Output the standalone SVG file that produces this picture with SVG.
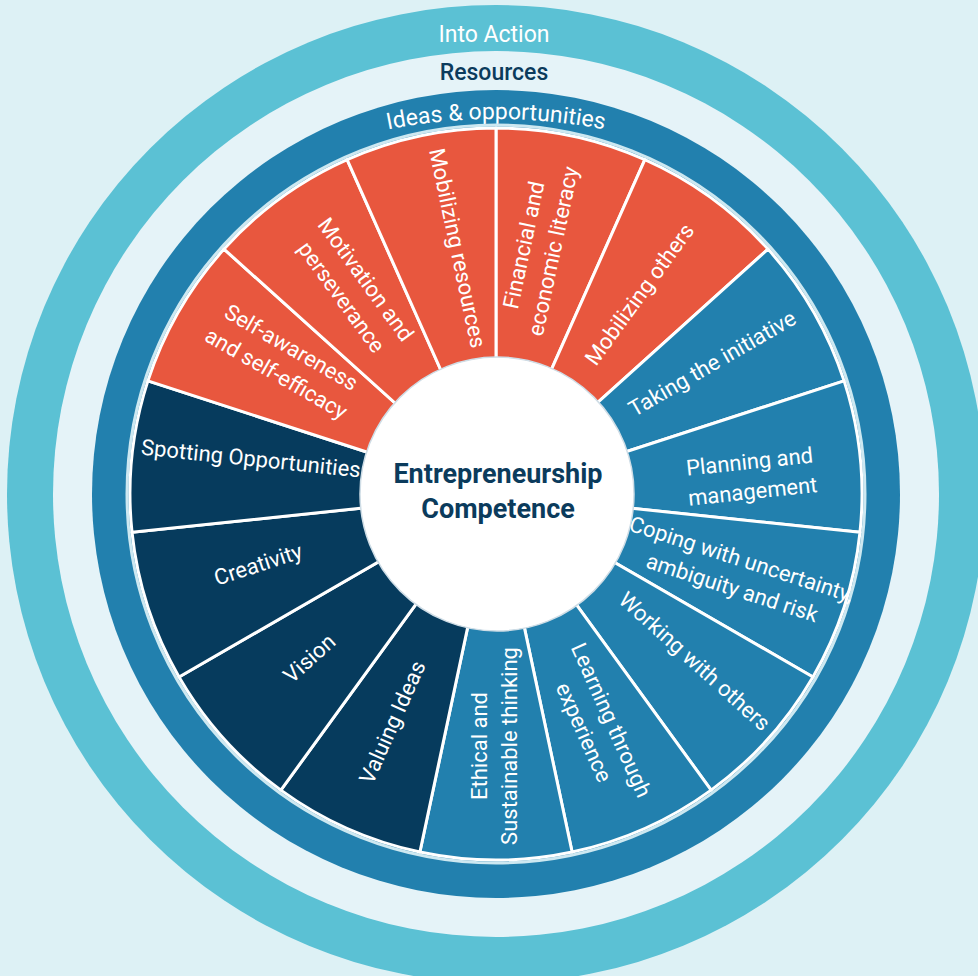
<svg xmlns="http://www.w3.org/2000/svg" width="978" height="976" viewBox="0 0 978 976">
<defs>
<style>
.wedge{stroke:#ffffff;stroke-width:3;stroke-linejoin:round}
.or{fill:#e8573e}
.bl{fill:#2280ae}
.nv{fill:#063b5d}
.lbl{font-family:Roboto,"Open Sans",sans-serif;font-size:22px;fill:#ffffff;text-anchor:middle}
.ring{font-family:Roboto,"Open Sans",sans-serif;font-size:23px;text-anchor:middle}
.center{font-family:Roboto,"Open Sans",sans-serif;font-weight:700;font-size:27px;fill:#0b3b5c;text-anchor:middle}
</style>
<path id="ideasArc" d="M -64,679 A 560,560 0 0 1 1056,679"/>
</defs>
<rect x="0" y="0" width="978" height="976" fill="#ddf1f5"/>
<g id="rings">
<circle cx="496" cy="494" r="489" fill="#5bc1d4"/>
<circle cx="496" cy="494" r="443" fill="#e5f3f8"/>
<circle cx="496" cy="494" r="404" fill="#2280ae"/>
<circle cx="496" cy="494" r="369" fill="none" stroke="#cde8f1" stroke-width="3"/>
</g>
<g id="ring-labels">
<text class="ring" x="494" y="42" fill="#ffffff">Into Action</text>
<text class="ring" x="494" y="80" fill="#0b3b5c" font-weight="500">Resources</text>
<text class="ring" fill="#ffffff"><textPath href="#ideasArc" startOffset="50%">Ideas &amp; opportunities</textPath></text>
</g>
<g id="connectors"></g>
<g id="seg-financial"><path class="wedge or" d="M496,494 L496,128 A366,366 0 0 1 644.87,159.64 Z"/>
<text class="lbl" transform="translate(538,248) rotate(-78)"><tspan x="0" y="-7">Financial and</tspan><tspan x="0" y="23">economic literacy</tspan></text></g>
<g id="seg-mobilizing-others"><path class="wedge or" d="M496,494 L644.87,159.64 A366,366 0 0 1 767.99,249.10 Z"/>
<text class="lbl" transform="translate(639,294) rotate(-54)" y="8">Mobilizing others</text></g>
<g id="seg-taking-initiative"><path class="wedge bl" d="M496,494 L767.99,249.10 A366,366 0 0 1 844.09,380.90 Z"/>
<text class="lbl" transform="translate(712,363) rotate(-30)" y="8">Taking the initiative</text></g>
<g id="seg-planning"><path class="wedge bl" d="M496,494 L844.09,380.90 A366,366 0 0 1 860,532.26 Z"/>
<text class="lbl" transform="translate(751,476) rotate(-6)"><tspan x="0" y="-7">Planning and</tspan><tspan x="0" y="23">management</tspan></text></g>
<g id="seg-coping"><path class="wedge bl" d="M496,494 L860,532.26 A366,366 0 0 1 812.97,677 Z"/>
<text class="lbl" transform="translate(737,573) rotate(18)"><tspan x="0" y="-7">Coping with uncertainty,</tspan><tspan x="0" y="23">ambiguity and risk</tspan></text></g>
<g id="seg-working"><path class="wedge bl" d="M496,494 L812.97,677 A366,366 0 0 1 711.13,790.10 Z"/>
<text class="lbl" transform="translate(695,661) rotate(42)" y="8">Working with others</text></g>
<g id="seg-learning"><path class="wedge bl" d="M496,494 L711.13,790.10 A366,366 0 0 1 572.10,852 Z"/>
<text class="lbl" transform="translate(598,726) rotate(66)"><tspan x="0" y="-7">Learning through</tspan><tspan x="0" y="23">experience</tspan></text></g>
<g id="seg-ethical"><path class="wedge bl" d="M496,494 L572.10,852 A366,366 0 0 1 419.90,852 Z"/>
<text class="lbl" transform="translate(494,746) rotate(-90)"><tspan x="0" y="-7">Ethical and</tspan><tspan x="0" y="23">Sustainable thinking</tspan></text></g>
<g id="seg-valuing"><path class="wedge nv" d="M496,494 L419.90,852 A366,366 0 0 1 280.87,790.10 Z"/>
<text class="lbl" transform="translate(392,722) rotate(-66)" y="8">Valuing Ideas</text></g>
<g id="seg-vision"><path class="wedge nv" d="M496,494 L280.87,790.10 A366,366 0 0 1 179.03,677 Z"/>
<text class="lbl" transform="translate(309,658) rotate(-42)" y="8">Vision</text></g>
<g id="seg-creativity"><path class="wedge nv" d="M496,494 L179.03,677 A366,366 0 0 1 132,532.26 Z"/>
<text class="lbl" transform="translate(258,564) rotate(-18)" y="8">Creativity</text></g>
<g id="seg-spotting"><path class="wedge nv" d="M496,494 L132,532.26 A366,366 0 0 1 147.91,380.90 Z"/>
<text class="lbl" transform="translate(251,458) rotate(6)" y="8">Spotting Opportunities</text></g>
<g id="seg-self-awareness"><path class="wedge or" d="M496,494 L147.91,380.90 A366,366 0 0 1 224.01,249.10 Z"/>
<text class="lbl" transform="translate(284,360) rotate(30)"><tspan x="0" y="-7">Self-awareness</tspan><tspan x="0" y="23">and self-efficacy</tspan></text></g>
<g id="seg-motivation"><path class="wedge or" d="M496,494 L224.01,249.10 A366,366 0 0 1 347.13,159.64 Z"/>
<text class="lbl" transform="translate(354,288) rotate(54)"><tspan x="0" y="-7">Motivation and</tspan><tspan x="0" y="23">perseverance</tspan></text></g>
<g id="seg-mobilizing-resources"><path class="wedge or" d="M496,494 L347.13,159.64 A366,366 0 0 1 496,128 Z"/>
<text class="lbl" transform="translate(458,248) rotate(78)" y="8">Mobilizing resources</text></g>
<g id="center">
<circle cx="497" cy="494" r="137" fill="#ffffff" stroke="#cfdde6" stroke-width="1.5"/>
<text class="center" x="498" y="483">Entrepreneurship</text>
<text class="center" x="498" y="518">Competence</text>
</g>
</svg>
